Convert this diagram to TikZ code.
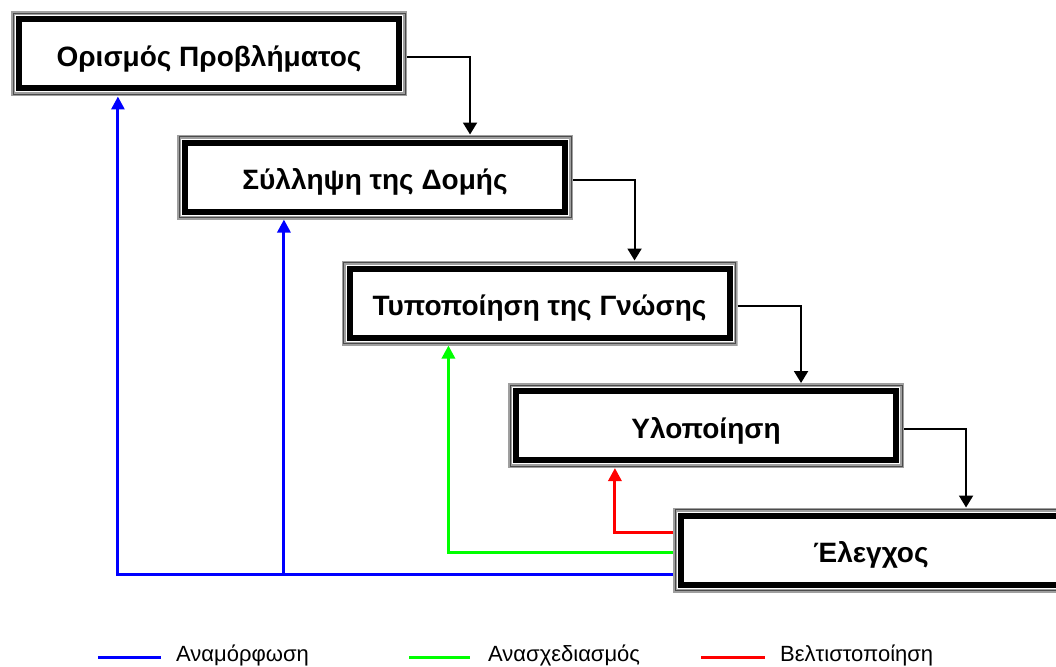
\documentclass[tikz,border=0pt]{standalone}
\usepackage{fontspec}
\setmainfont{Liberation Sans}
\usetikzlibrary{arrows.meta,calc}
\definecolor{fbblue}{RGB}{0,0,255}
\definecolor{fbgreen}{RGB}{0,255,0}
\definecolor{fbred}{RGB}{255,0,0}
\begin{document}
\begin{tikzpicture}[x=1pt,y=-1pt,
  stage/.style={minimum width=396pt, minimum height=85pt, inner sep=0pt, outer sep=0pt,
    fill=white,
    path picture={
      \draw[gray!75, line width=4pt]
        ([shift={(2pt,-2pt)}]path picture bounding box.north west) rectangle
        ([shift={(-2pt,2pt)}]path picture bounding box.south east);
      \draw[black!70, line width=0.8pt]
        ([shift={(2pt,-2pt)}]path picture bounding box.north west) rectangle
        ([shift={(-2pt,2pt)}]path picture bounding box.south east);
      \draw[black, line width=6pt]
        ([shift={(8pt,-8pt)}]path picture bounding box.north west) rectangle
        ([shift={(-8pt,8pt)}]path picture bounding box.south east);
    }},
  stagelabel/.style={inner sep=0pt, font=\fontsize{28}{30}\selectfont\bfseries},
  flow/.style={line width=2pt, -{Triangle[width=14pt,length=12pt]}},
  back/.style={line width=3pt, -{Triangle[width=13pt,length=13pt]}},
  key/.style={line width=3pt},
  keytext/.style={anchor=west, inner sep=0pt, font=\fontsize{22}{24}\selectfont}]
\useasboundingbox (0,0) rectangle (1056,666);
\clip (0,0) rectangle (1056,666);

% stages of the process
\node[stage] (b1) at (209,54)    {};
\node[stage] (b2) at (375,177)   {};
\node[stage] (b3) at (539.5,303) {};
\node[stage] (b4) at (706,425.5) {};
\node[stage] (b5) at (871,550)   {};

% stage titles, set a little below the middle of each frame
\node[stagelabel] (n1) at ([yshift=-5pt]b1.center) {Ορισμός Προβλήματος};
\node[stagelabel] (n2) at ([yshift=-5pt]b2.center) {Σύλληψη της Δομής};
\node[stagelabel] (n3) at ([yshift=-5pt]b3.center) {Τυποποίηση της Γνώσης};
\node[stagelabel] (n4) at ([yshift=-5pt]b4.center) {Υλοποίηση};
\node[stagelabel] (n5) at ([yshift=-5pt]b5.center) {Έλεγχος};

% forward flow: right side of one stage to the top of the next
\foreach \a/\b in {b1/b2, b2/b3, b3/b4, b4/b5}{
  \coordinate (t\b) at ($(\b.north west)!0.74!(\b.north east)$);
  \draw[flow] ([yshift=-3pt]\a.east) -| (t\b);
}

% feedback targets under each earlier stage
\foreach \b in {b1,b2,b3,b4}{
  \coordinate (u\b) at ($(\b.south west)!0.27!(\b.south east)$);
}

% exits from the testing stage
\coordinate (outblue)  at ([yshift=-24pt]b5.west);
\coordinate (outgreen) at ([yshift=-2pt]b5.west);
\coordinate (outred)   at ([yshift=18pt]b5.west);

\draw[back, fbblue]  (outblue) -| (ub1);
\draw[back, fbblue]  (ub2 |- outblue) -- (ub2);
\draw[back, fbgreen] (outgreen) -| (ub3);
\draw[back, fbred]   (outred) -| (ub4);

% legend
\coordinate (k1a) at (98,657);  \coordinate (k1b) at (161,657);
\coordinate (k2a) at (409,657); \coordinate (k2b) at (470,657);
\coordinate (k3a) at (701,657); \coordinate (k3b) at (765,657);
\draw[key, fbblue]  (k1a) -- (k1b);
\draw[key, fbgreen] (k2a) -- (k2b);
\draw[key, fbred]   (k3a) -- (k3b);
\node[keytext] (l1) at (176,655) {Αναμόρφωση};
\node[keytext] (l2) at (488,655) {Ανασχεδιασμός};
\node[keytext] (l3) at (780,655) {Βελτιστοποίηση};
\end{tikzpicture}
\end{document}
